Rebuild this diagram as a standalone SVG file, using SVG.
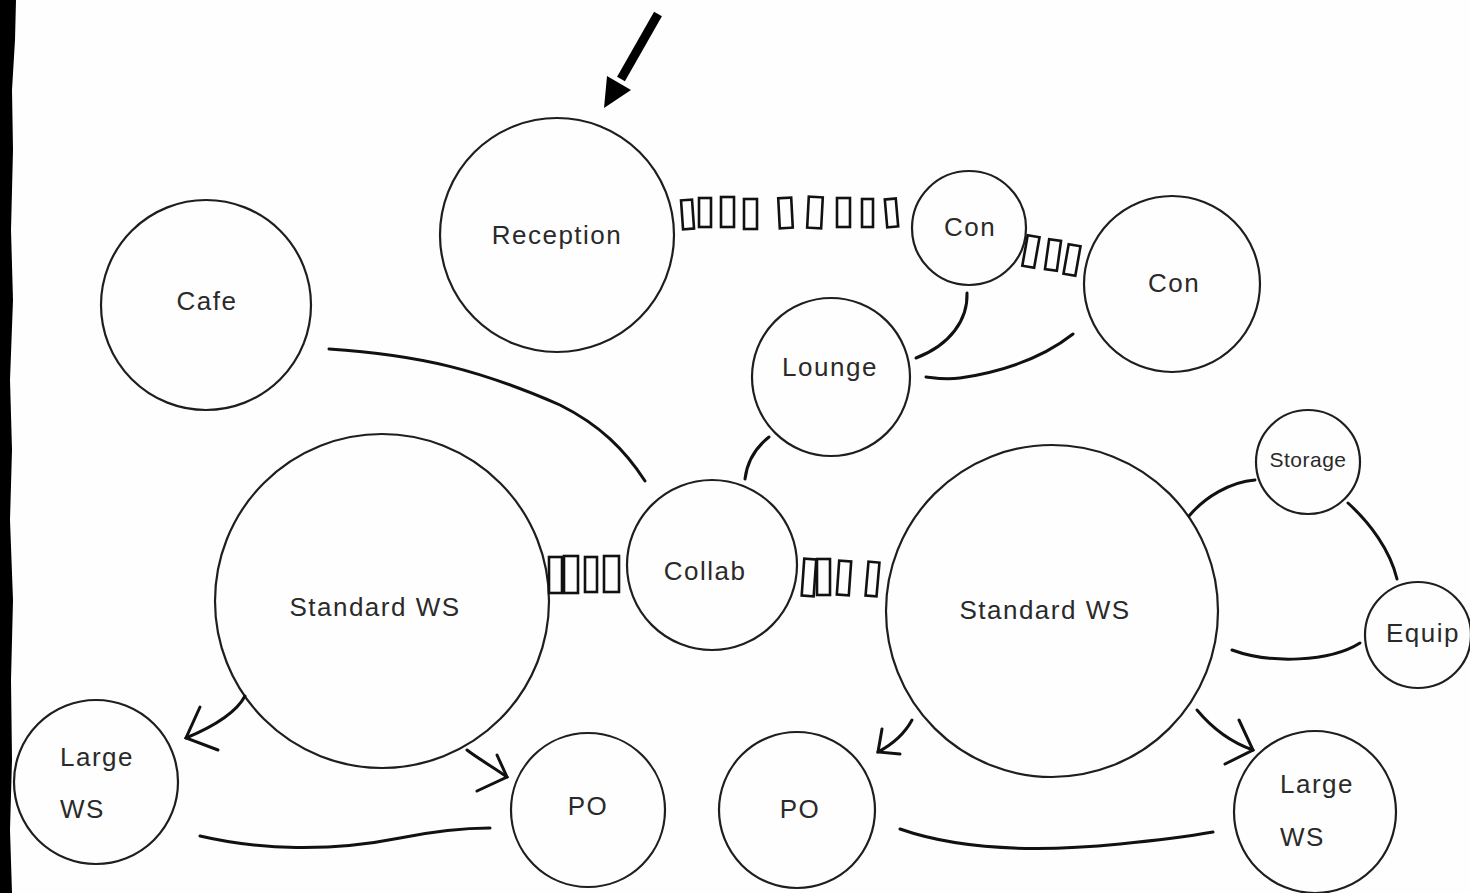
<svg xmlns="http://www.w3.org/2000/svg" width="1470" height="893" viewBox="0 0 1470 893">
<style>
.node circle{fill:none;stroke:#1e1e1e;stroke-width:2.2}
.node text{font-family:"Liberation Sans",Arial,sans-serif;font-size:26px;letter-spacing:1.5px;fill:#2a2a2a;text-anchor:middle}
.node text.l{text-anchor:start}
.c path{fill:none;stroke:#111;stroke-width:3;stroke-linecap:round}
.c rect{fill:none;stroke:#111;stroke-width:2.6}
</style>
<rect width="1470" height="893" fill="#fefefe"/>
<path d="M0,0 L16,0 L15,40 L12,90 L13,150 L11,230 L13,300 L10,380 L12,450 L10,520 L13,600 L11,680 L12,760 L10,830 L12,893 L0,893 Z" fill="#000"/>

<g id="arrow-top">
<path d="M658,14 L621,79" stroke="#000" stroke-width="9" fill="none"/>
<path d="M604,108 L607,76 L631,90 Z" fill="#000"/>
</g>

<g id="reception" class="node"><circle cx="557" cy="235" r="117"/><text x="557" y="244">Reception</text></g>
<g id="cafe" class="node"><circle cx="206" cy="305" r="105"/><text x="207" y="310">Cafe</text></g>
<g id="con1" class="node"><circle cx="969" cy="228" r="57"/><text x="970" y="236">Con</text></g>
<g id="con2" class="node"><circle cx="1172" cy="284" r="88"/><text x="1174" y="292">Con</text></g>
<g id="lounge" class="node"><circle cx="831" cy="377" r="79"/><text x="830" y="376">Lounge</text></g>
<g id="collab" class="node"><circle cx="712" cy="565" r="85"/><text x="705" y="580">Collab</text></g>
<g id="sws-left" class="node"><circle cx="382" cy="601" r="167"/><text x="375" y="616">Standard WS</text></g>
<g id="sws-right" class="node"><circle cx="1052" cy="611" r="166"/><text x="1045" y="619">Standard WS</text></g>
<g id="storage" class="node"><circle cx="1308" cy="462" r="52"/><text x="1308" y="467" style="font-size:21px;letter-spacing:0.5px">Storage</text></g>
<g id="equip" class="node"><circle cx="1418" cy="635" r="53"/><text x="1423" y="642">Equip</text></g>
<g id="large-ws-left" class="node"><circle cx="96" cy="782" r="82"/><text class="l" x="60" y="766">Large</text><text class="l" x="60" y="818">WS</text></g>
<g id="po-left" class="node"><circle cx="588" cy="810" r="77"/><text x="588" y="815">PO</text></g>
<g id="po-right" class="node"><circle cx="797" cy="810" r="78"/><text x="800" y="818">PO</text></g>
<g id="large-ws-right" class="node"><circle cx="1315" cy="812" r="81"/><text class="l" x="1280" y="793">Large</text><text class="l" x="1280" y="846">WS</text></g>

<g id="connectors" class="c">
<!-- curves -->
<path d="M329,349 C420,355 480,370 560,405 C600,425 625,450 645,481"/>
<path d="M769,437 C755,448 747,462 745,479"/>
<path d="M967,293 C968,320 950,345 916,358"/>
<path d="M1073,334 C1040,360 1000,372 960,378 C945,380 935,378 926,377"/>
<path d="M1255,480 C1230,482 1205,497 1189,516"/>
<path d="M1348,503 C1370,523 1390,550 1397,579"/>
<path d="M1232,650 C1270,664 1330,662 1360,643"/>
<path d="M200,836 C260,850 330,852 400,838 C440,830 470,828 490,828"/>
<path d="M900,829 C960,850 1040,852 1120,844 C1160,840 1190,836 1213,832"/>
<!-- arrows -->
<path d="M245,696 C235,715 210,728 186,738"/>
<path d="M200,707 L186,738 L218,750"/>
<path d="M467,750 C480,760 495,768 507,777"/>
<path d="M497,755 L507,777 L477,791"/>
<path d="M912,720 C905,733 893,744 878,752"/>
<path d="M882,729 L878,752 L900,754"/>
<path d="M1197,710 C1212,728 1230,742 1253,750"/>
<path d="M1239,720 L1253,750 L1225,764"/>
<!-- chain Reception-Con -->
<rect x="682" y="200" width="11" height="29" transform="rotate(-4 687 214)"/>
<rect x="699" y="198" width="12" height="29"/>
<rect x="721" y="197" width="13" height="30"/>
<rect x="744" y="199" width="13" height="30"/>
<rect x="779" y="198" width="13" height="30" transform="rotate(-3 785 213)"/>
<rect x="808" y="197" width="14" height="31" transform="rotate(3 815 212)"/>
<rect x="837" y="198" width="13" height="29"/>
<rect x="862" y="199" width="11" height="28"/>
<rect x="886" y="199" width="11" height="28" transform="rotate(-5 891 213)"/>
<!-- chain Con-Con -->
<rect x="1025" y="236" width="12" height="31" transform="rotate(10 1031 251)"/>
<rect x="1047" y="240" width="12" height="30" transform="rotate(8 1053 255)"/>
<rect x="1066" y="245" width="12" height="30" transform="rotate(10 1072 260)"/>
<!-- chain SWS-Collab -->
<rect x="549" y="557" width="13" height="36"/>
<rect x="564" y="556" width="14" height="37"/>
<rect x="585" y="557" width="12" height="35"/>
<rect x="604" y="556" width="15" height="36"/>
<!-- chain Collab-SWS -->
<rect x="803" y="559" width="12" height="37" transform="rotate(4 809 577)"/>
<rect x="817" y="559" width="13" height="36"/>
<rect x="838" y="561" width="12" height="34" transform="rotate(4 844 578)"/>
<rect x="867" y="562" width="11" height="34" transform="rotate(5 872 579)"/>
</g>
</svg>
